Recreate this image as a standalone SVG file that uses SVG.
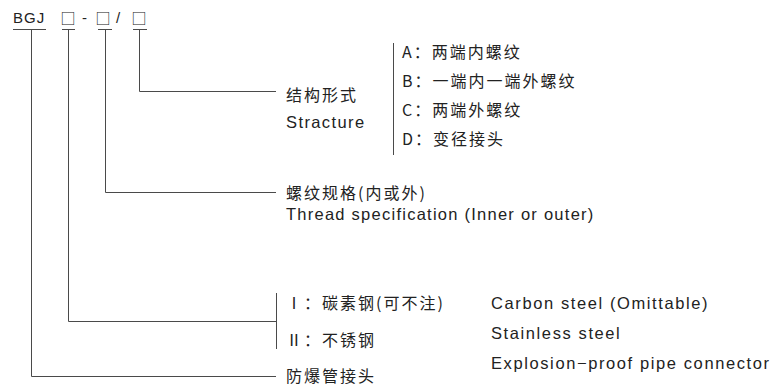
<svg xmlns="http://www.w3.org/2000/svg" width="780" height="387" viewBox="0 0 780 387">
<style>
.ln{stroke:#4a4a4a;stroke-width:1;fill:none}
.c{font-family:"Noto Sans CJK SC","Liberation Sans",sans-serif;font-size:16px;fill:#222;letter-spacing:2px}
.e{font-family:"Liberation Sans",sans-serif;font-size:16.5px;fill:#222;letter-spacing:1.6px}
.h{font-family:"Liberation Sans","Noto Sans CJK SC",sans-serif;font-size:15px;fill:#222;letter-spacing:1px}
.b{font-family:"Noto Sans CJK SC",sans-serif;font-size:15px;fill:#222}
</style>
<rect width="780" height="387" fill="#fff"/>
<g id="code">
<text class="h" x="13" y="23">BGJ</text>
<text class="b" x="60.5" y="23.5">□</text>
<text class="h" x="82" y="23">-</text>
<text class="b" x="95.5" y="23.5">□</text>
<text class="h" x="116" y="23">/</text>
<text class="b" x="131.5" y="23.5">□</text>
</g>
<g id="connectors">
<path class="ln" d="M13 29.5H46M62 29.5H75M98 29.5H112M133 29.5H147"/>
<path class="ln" d="M139.5 29.5V91.5H276"/>
<path class="ln" d="M105.5 29.5V192.5H276"/>
<path class="ln" d="M68.5 29.5V321.5H276.5"/>
<path class="ln" d="M31.5 29.5V376.5H276"/>
<path class="ln" d="M393.5 43V155"/>
<path class="ln" d="M276.5 293V349"/>
</g>
<g id="structure">
<text class="c" x="286" y="101">结构形式</text>
<text class="e" x="286" y="128" style="letter-spacing:1.4px">Stracture</text>
<text class="c" x="402" y="58">A：两端内螺纹</text>
<text class="c" x="402" y="87">B：一端内一端外螺纹</text>
<text class="c" x="402" y="116">C：两端外螺纹</text>
<text class="c" x="402" y="145">D：变径接头</text>
</g>
<g id="thread">
<text class="c" x="286" y="199">螺纹规格(内或外)</text>
<text class="e" x="286" y="220" style="letter-spacing:1.25px">Thread specification (Inner or outer)</text>
</g>
<g id="material">
<text class="c" x="286" y="309">Ⅰ：碳素钢(可不注)</text>
<text class="c" x="286" y="346">Ⅱ：不锈钢</text>
<text class="e" x="491" y="309">Carbon steel (Omittable)</text>
<text class="e" x="491" y="339">Stainless steel</text>
</g>
<g id="name">
<text class="e" x="491" y="369">Explosion−proof pipe connector</text>
<text class="c" x="286" y="382">防爆管接头</text>
</g>
</svg>
